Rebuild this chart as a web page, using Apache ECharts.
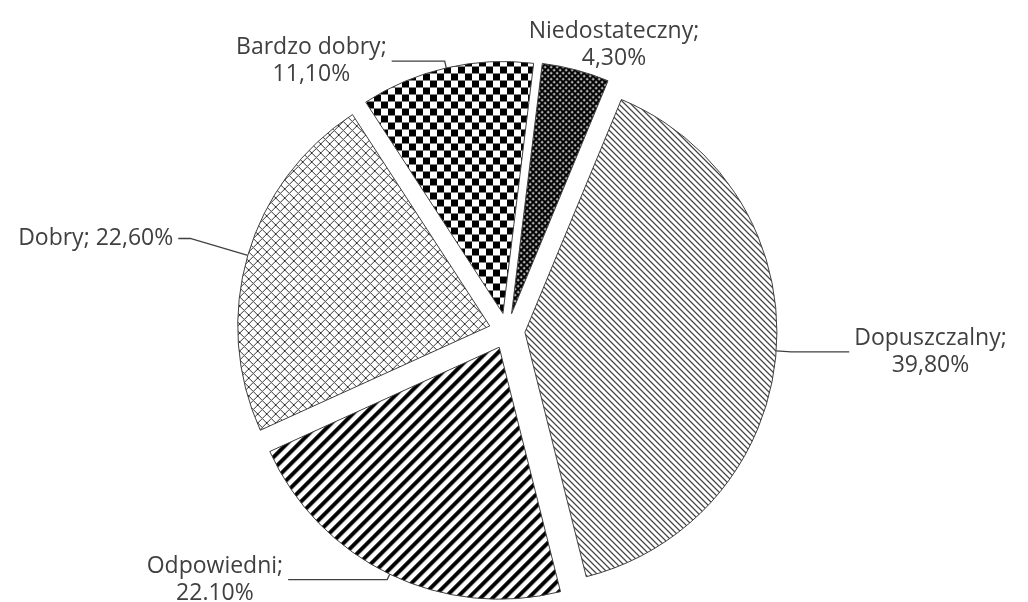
<!DOCTYPE html>
<html>
<head>
<meta charset="utf-8">
<script src="https://cdn.jsdelivr.net/npm/echarts@6/dist/echarts.min.js"></script>
<style>
  html, body { margin: 0; padding: 0; background: #fff; }
  #chart { width: 1028px; height: 602px; }
</style>
</head>
<body>
<div id="chart"></div>
<script>
// dane wykresu
var categories = ['Niedostateczny', 'Dopuszczalny', 'Odpowiedni', 'Dobry', 'Bardzo dobry'];
var values = [4.3, 39.8, 22.1, 22.6, 11.1];
var percentLabels = ['4,30%', '39,80%', '22.10%', '22,60%', '11,10%'];

// wzory wypełnienia (jak w Excelu)
function makeTile(size, draw) {
  var c = document.createElement('canvas');
  c.width = size;
  c.height = size;
  var ctx = c.getContext('2d');
  ctx.fillStyle = '#fff';
  ctx.fillRect(0, 0, size, size);
  draw(ctx, size);
  return c;
}

var patterns = [
  // gęsty drobny wzór (ciemny)
  makeTile(6, function (ctx) {
    ctx.fillStyle = '#000';
    ctx.fillRect(0, 0, 6, 6);
    ctx.fillStyle = '#aaa';
    [[1, 0], [0, 1], [5, 0], [0, 5], [4, 3], [3, 4], [2, 3], [3, 2]].forEach(function (p) {
      ctx.fillRect(p[0], p[1], 1, 1);
    });
    ctx.fillStyle = '#fff';
    ctx.fillRect(0, 0, 1, 1);
    ctx.fillRect(3, 3, 1, 1);
  }),
  // cienkie ukośne linie \
  makeTile(6, function (ctx, s) {
    for (var i = 0; i < s; i++) {
      ctx.fillStyle = '#111';
      ctx.fillRect(i, i, 1, 1);
      ctx.fillStyle = '#999';
      ctx.fillRect((i + 1) % s, i, 1, 1);
    }
  }),
  // grube ukośne linie /
  makeTile(12, function (ctx, s) {
    for (var y = 0; y < s; y++) {
      ctx.fillStyle = '#000';
      for (var k = 0; k < 5; k++) {
        ctx.fillRect((s - 1 - y + k) % s, y, 1, 1);
      }
      ctx.fillStyle = '#777';
      ctx.fillRect((s - 1 - y + 5) % s, y, 1, 1);
    }
  }),
  // siatka rombów
  makeTile(9, function (ctx, s) {
    ctx.fillStyle = '#333';
    for (var i = 0; i < s; i++) {
      ctx.fillRect(i, i, 1, 1);
      ctx.fillRect(i, (s - i) % s, 1, 1);
    }
  }),
  // szachownica
  makeTile(14, function (ctx) {
    ctx.fillStyle = '#000';
    ctx.fillRect(0, 0, 7, 7);
    ctx.fillRect(7, 7, 7, 7);
  })
];

// długości linii odniesienia dla etykiet
var lineLen = [0, 15, 6, 60, 7];
var lineLen2 = [0, 58, 99, 12, 53];

var myChart = echarts.init(document.getElementById('chart'));

var pieData = categories.map(function (name, i) {
  return {
    name: name,
    value: values[i],
    selected: true,
    itemStyle: { color: { image: patterns[i], repeat: 'repeat' } },
    labelLine: { show: i !== 0, length: lineLen[i], length2: lineLen2[i] }
  };
});

myChart.setOption({
  animation: false,
  series: [{
    type: 'pie',
    center: [507, 331],
    radius: 252,
    startAngle: 83,
    clockwise: true,
    selectedMode: 'multiple',
    selectedOffset: 18,
    avoidLabelOverlap: false,
    emphasis: { disabled: true },
    itemStyle: {
      borderColor: '#404040',
      borderWidth: 1
    },
    label: {
      position: 'outside',
      color: '#404040',
      fontFamily: 'Open Sans',
      fontSize: 23,
      lineHeight: 27,
      formatter: function (p) {
        var i = p.dataIndex;
        if (i === 3) {
          return '{c|' + p.name + '; ' + percentLabels[i] + '}';
        }
        return '{c|' + p.name + ';}\n{c|' + percentLabels[i] + '}';
      },
      rich: {
        c: { align: 'center', color: '#404040', fontFamily: 'Open Sans', fontSize: 23, lineHeight: 27 }
      }
    },
    labelLine: {
      show: true,
      lineStyle: { color: '#404040', width: 1.3 }
    },
    labelLayout: function (params) {
      // etykieta "Niedostateczny" nad wycinkiem, bez linii
      if (params.dataIndex === 0) {
        return { dx: -52, dy: -25 };
      }
    },
    data: pieData
  }]
});
</script>
</body>
</html>
